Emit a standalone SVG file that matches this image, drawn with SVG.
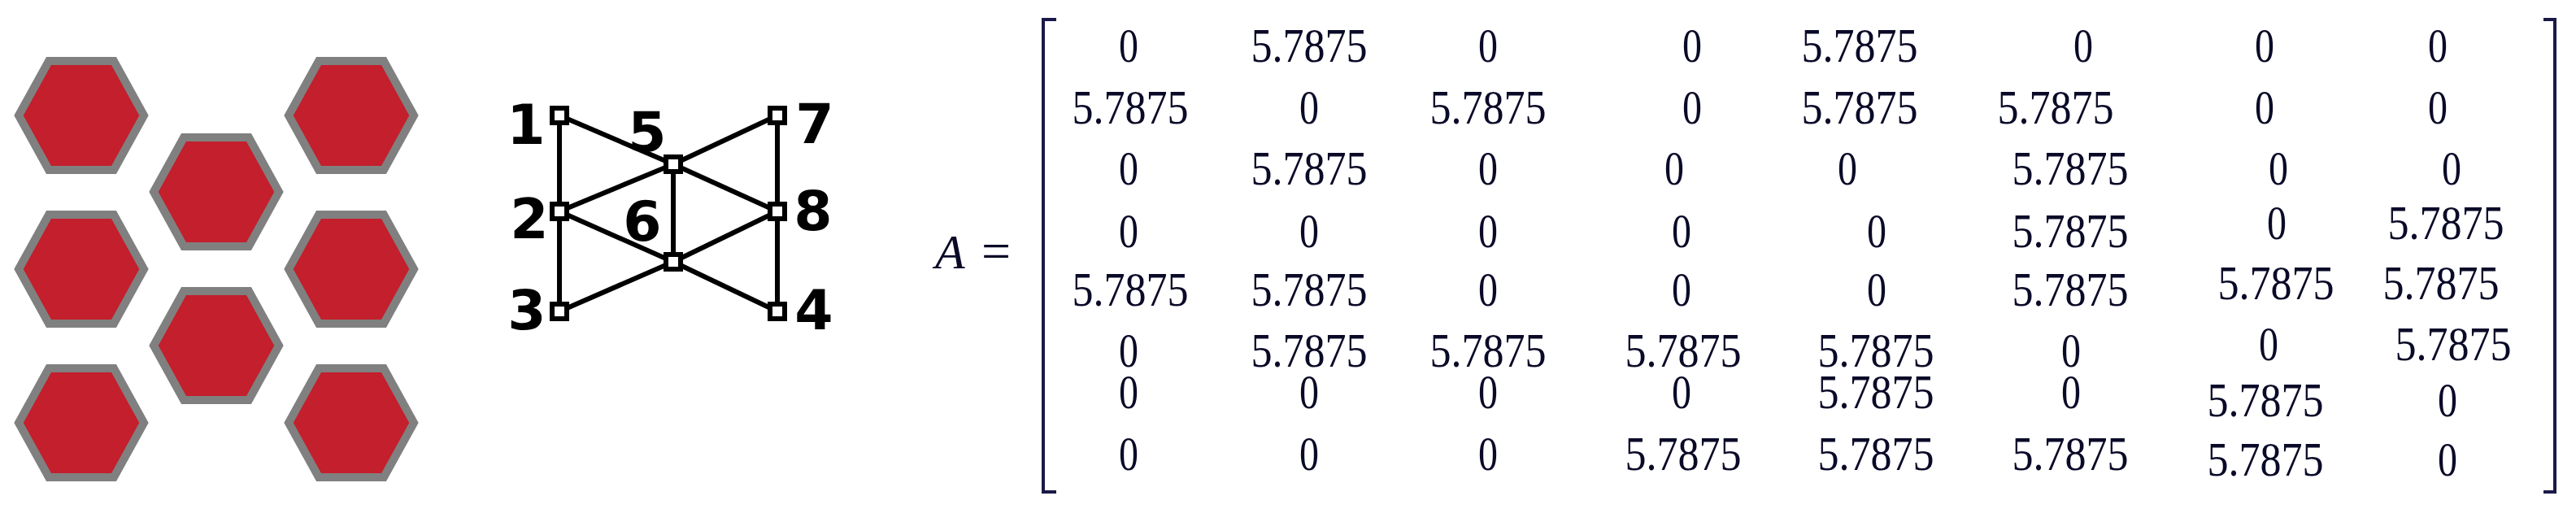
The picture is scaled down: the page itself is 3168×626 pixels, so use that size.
<svg xmlns="http://www.w3.org/2000/svg" width="3168" height="626" viewBox="0 0 3168 626">
<style>
.hex{fill:#C31F2C;stroke:#808080;stroke-width:10;stroke-linejoin:miter}
.edge{stroke:#000;stroke-width:6;fill:none}
.node{fill:#fff;stroke:#000;stroke-width:6}
.lbl{font-family:"DejaVu Sans",sans-serif;font-weight:bold;font-size:68px;fill:#000;text-anchor:middle}
.m{font-family:"Liberation Serif",serif;font-size:59px;fill:#0a0a28;text-anchor:middle}
.br{stroke:#1a1a48;stroke-width:4;fill:none}
</style>
<defs>
<polygon id="hx" points="-77,0 -40,-67 40,-67 77,0 40,67 -40,67"/>
</defs>
<rect width="3168" height="626" fill="#fff"/>
<g id="hexagons">
<use href="#hx" class="hex" x="100" y="142"/>
<use href="#hx" class="hex" x="432" y="142"/>
<use href="#hx" class="hex" x="266" y="236"/>
<use href="#hx" class="hex" x="100" y="331"/>
<use href="#hx" class="hex" x="432" y="331"/>
<use href="#hx" class="hex" x="266" y="425"/>
<use href="#hx" class="hex" x="100" y="520"/>
<use href="#hx" class="hex" x="432" y="520"/>
</g>
<g id="connectors">
<line class="edge" x1="688" y1="142" x2="688" y2="260"/>
<line class="edge" x1="688" y1="260" x2="688" y2="383"/>
<line class="edge" x1="956" y1="142" x2="956" y2="260"/>
<line class="edge" x1="956" y1="260" x2="956" y2="383"/>
<line class="edge" x1="828" y1="202" x2="828" y2="322"/>
<line class="edge" x1="688" y1="142" x2="828" y2="202"/>
<line class="edge" x1="956" y1="142" x2="828" y2="202"/>
<line class="edge" x1="688" y1="260" x2="828" y2="202"/>
<line class="edge" x1="956" y1="260" x2="828" y2="202"/>
<line class="edge" x1="688" y1="260" x2="828" y2="322"/>
<line class="edge" x1="956" y1="260" x2="828" y2="322"/>
<line class="edge" x1="688" y1="383" x2="828" y2="322"/>
<line class="edge" x1="956" y1="383" x2="828" y2="322"/>
</g>
<g id="n1"><rect class="node" x="679" y="133" width="18" height="18"/><text class="lbl" x="647" y="177">1</text></g>
<g id="n2"><rect class="node" x="679" y="251" width="18" height="18"/><text class="lbl" x="651" y="293">2</text></g>
<g id="n3"><rect class="node" x="679" y="374" width="18" height="18"/><text class="lbl" x="648" y="405">3</text></g>
<g id="n4"><rect class="node" x="947" y="374" width="18" height="18"/><text class="lbl" x="1001" y="405">4</text></g>
<g id="n5"><rect class="node" x="819" y="193" width="18" height="18"/><text class="lbl" x="796" y="186">5</text></g>
<g id="n6"><rect class="node" x="819" y="313" width="18" height="18"/><text class="lbl" x="790" y="296">6</text></g>
<g id="n7"><rect class="node" x="947" y="133" width="18" height="18"/><text class="lbl" x="1002" y="176">7</text></g>
<g id="n8"><rect class="node" x="947" y="251" width="18" height="18"/><text class="lbl" x="1000" y="283">8</text></g>
<g id="matrix">
<text x="1150" y="330" font-family="Liberation Serif, serif" font-style="italic" font-size="60" fill="#0a0a28">A</text>
<text x="1225" y="330" font-family="Liberation Serif, serif" font-size="64" fill="#0a0a28" text-anchor="middle">=</text>
<path class="br" d="M1299,24 H1283 V605 H1299"/>
<path class="br" d="M3128,24 H3142 V605 H3128"/>
<!-- row 1 -->
<text class="m" x="1388" y="76" textLength="24" lengthAdjust="spacingAndGlyphs">0</text>
<text class="m" x="1610" y="76" textLength="143" lengthAdjust="spacingAndGlyphs">5.7875</text>
<text class="m" x="1830" y="76" textLength="24" lengthAdjust="spacingAndGlyphs">0</text>
<text class="m" x="2081" y="76" textLength="24" lengthAdjust="spacingAndGlyphs">0</text>
<text class="m" x="2287" y="76" textLength="143" lengthAdjust="spacingAndGlyphs">5.7875</text>
<text class="m" x="2562" y="76" textLength="24" lengthAdjust="spacingAndGlyphs">0</text>
<text class="m" x="2785" y="76" textLength="24" lengthAdjust="spacingAndGlyphs">0</text>
<text class="m" x="2998" y="76" textLength="24" lengthAdjust="spacingAndGlyphs">0</text>
<!-- row 2 -->
<text class="m" x="1390" y="152" textLength="143" lengthAdjust="spacingAndGlyphs">5.7875</text>
<text class="m" x="1610" y="152" textLength="24" lengthAdjust="spacingAndGlyphs">0</text>
<text class="m" x="1830" y="152" textLength="143" lengthAdjust="spacingAndGlyphs">5.7875</text>
<text class="m" x="2081" y="152" textLength="24" lengthAdjust="spacingAndGlyphs">0</text>
<text class="m" x="2287" y="152" textLength="143" lengthAdjust="spacingAndGlyphs">5.7875</text>
<text class="m" x="2528" y="152" textLength="143" lengthAdjust="spacingAndGlyphs">5.7875</text>
<text class="m" x="2785" y="152" textLength="24" lengthAdjust="spacingAndGlyphs">0</text>
<text class="m" x="2998" y="152" textLength="24" lengthAdjust="spacingAndGlyphs">0</text>
<!-- row 3 -->
<text class="m" x="1388" y="227" textLength="24" lengthAdjust="spacingAndGlyphs">0</text>
<text class="m" x="1610" y="227" textLength="143" lengthAdjust="spacingAndGlyphs">5.7875</text>
<text class="m" x="1830" y="227" textLength="24" lengthAdjust="spacingAndGlyphs">0</text>
<text class="m" x="2059" y="227" textLength="24" lengthAdjust="spacingAndGlyphs">0</text>
<text class="m" x="2272" y="227" textLength="24" lengthAdjust="spacingAndGlyphs">0</text>
<text class="m" x="2546" y="227" textLength="143" lengthAdjust="spacingAndGlyphs">5.7875</text>
<text class="m" x="2802" y="227" textLength="24" lengthAdjust="spacingAndGlyphs">0</text>
<text class="m" x="3015" y="227" textLength="24" lengthAdjust="spacingAndGlyphs">0</text>
<!-- row 4 -->
<text class="m" x="1388" y="304" textLength="24" lengthAdjust="spacingAndGlyphs">0</text>
<text class="m" x="1610" y="304" textLength="24" lengthAdjust="spacingAndGlyphs">0</text>
<text class="m" x="1830" y="304" textLength="24" lengthAdjust="spacingAndGlyphs">0</text>
<text class="m" x="2068" y="304" textLength="24" lengthAdjust="spacingAndGlyphs">0</text>
<text class="m" x="2308" y="304" textLength="24" lengthAdjust="spacingAndGlyphs">0</text>
<text class="m" x="2546" y="304" textLength="143" lengthAdjust="spacingAndGlyphs">5.7875</text>
<text class="m" x="2800" y="294" textLength="24" lengthAdjust="spacingAndGlyphs">0</text>
<text class="m" x="3008" y="294" textLength="143" lengthAdjust="spacingAndGlyphs">5.7875</text>
<!-- row 5 -->
<text class="m" x="1390" y="376" textLength="143" lengthAdjust="spacingAndGlyphs">5.7875</text>
<text class="m" x="1610" y="376" textLength="143" lengthAdjust="spacingAndGlyphs">5.7875</text>
<text class="m" x="1830" y="376" textLength="24" lengthAdjust="spacingAndGlyphs">0</text>
<text class="m" x="2068" y="376" textLength="24" lengthAdjust="spacingAndGlyphs">0</text>
<text class="m" x="2308" y="376" textLength="24" lengthAdjust="spacingAndGlyphs">0</text>
<text class="m" x="2546" y="376" textLength="143" lengthAdjust="spacingAndGlyphs">5.7875</text>
<text class="m" x="2799" y="368" textLength="143" lengthAdjust="spacingAndGlyphs">5.7875</text>
<text class="m" x="3002" y="368" textLength="143" lengthAdjust="spacingAndGlyphs">5.7875</text>
<!-- row 6 -->
<text class="m" x="1388" y="451" textLength="24" lengthAdjust="spacingAndGlyphs">0</text>
<text class="m" x="1610" y="451" textLength="143" lengthAdjust="spacingAndGlyphs">5.7875</text>
<text class="m" x="1830" y="451" textLength="143" lengthAdjust="spacingAndGlyphs">5.7875</text>
<text class="m" x="2070" y="451" textLength="143" lengthAdjust="spacingAndGlyphs">5.7875</text>
<text class="m" x="2307" y="451" textLength="143" lengthAdjust="spacingAndGlyphs">5.7875</text>
<text class="m" x="2547" y="451" textLength="24" lengthAdjust="spacingAndGlyphs">0</text>
<text class="m" x="2790" y="443" textLength="24" lengthAdjust="spacingAndGlyphs">0</text>
<text class="m" x="3017" y="443" textLength="143" lengthAdjust="spacingAndGlyphs">5.7875</text>
<!-- row 7 -->
<text class="m" x="1388" y="502" textLength="24" lengthAdjust="spacingAndGlyphs">0</text>
<text class="m" x="1610" y="502" textLength="24" lengthAdjust="spacingAndGlyphs">0</text>
<text class="m" x="1830" y="502" textLength="24" lengthAdjust="spacingAndGlyphs">0</text>
<text class="m" x="2068" y="502" textLength="24" lengthAdjust="spacingAndGlyphs">0</text>
<text class="m" x="2307" y="502" textLength="143" lengthAdjust="spacingAndGlyphs">5.7875</text>
<text class="m" x="2547" y="502" textLength="24" lengthAdjust="spacingAndGlyphs">0</text>
<text class="m" x="2786" y="512" textLength="143" lengthAdjust="spacingAndGlyphs">5.7875</text>
<text class="m" x="3010" y="512" textLength="24" lengthAdjust="spacingAndGlyphs">0</text>
<!-- row 8 -->
<text class="m" x="1388" y="578" textLength="24" lengthAdjust="spacingAndGlyphs">0</text>
<text class="m" x="1610" y="578" textLength="24" lengthAdjust="spacingAndGlyphs">0</text>
<text class="m" x="1830" y="578" textLength="24" lengthAdjust="spacingAndGlyphs">0</text>
<text class="m" x="2070" y="578" textLength="143" lengthAdjust="spacingAndGlyphs">5.7875</text>
<text class="m" x="2307" y="578" textLength="143" lengthAdjust="spacingAndGlyphs">5.7875</text>
<text class="m" x="2546" y="578" textLength="143" lengthAdjust="spacingAndGlyphs">5.7875</text>
<text class="m" x="2786" y="585" textLength="143" lengthAdjust="spacingAndGlyphs">5.7875</text>
<text class="m" x="3010" y="585" textLength="24" lengthAdjust="spacingAndGlyphs">0</text>
</g>
</svg>
